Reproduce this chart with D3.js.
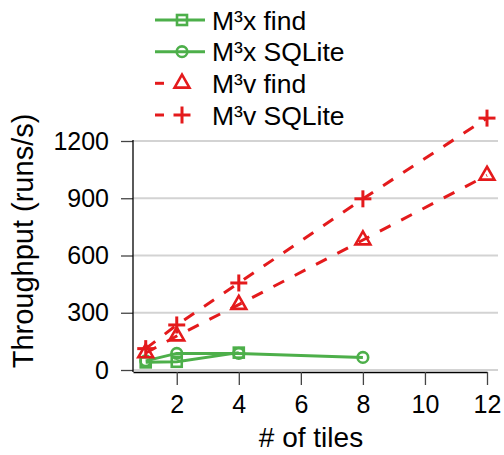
<!DOCTYPE html>
<html>
<head>
<meta charset="utf-8">
<script src="https://cdn.jsdelivr.net/npm/d3@7"></script>
<style>
  html, body { margin: 0; padding: 0; background: #fff; }
  svg { display: block; font-family: "Liberation Sans", Arial, Helvetica, sans-serif; }
</style>
</head>
<body>
<svg id="chart" width="504" height="455"></svg>
<script>
// Throughput vs. number of tiles
const xTicks = [2, 4, 6, 8, 10, 12];
const yTicks = [0, 300, 600, 900, 1200];

const mxFindTiles = [1, 2, 4];
const mxFindValues = [40, 43, 91];

const mxSqliteTiles = [1, 2, 4, 8];
const mxSqliteValues = [48, 87, 87, 66];

const mvFindTiles = [1, 2, 4, 8, 12];
const mvFindValues = [89, 178, 343, 681, 1020];

const mvSqliteTiles = [1, 2, 4, 8, 12];
const mvSqliteValues = [112, 236, 456, 897, 1320];

const seriesNames = ["M³x find", "M³x SQLite", "M³v find", "M³v SQLite"];

const GREEN = "#4daf4a";
const RED = "#e41a1c";

const series = [
  { name: seriesNames[0], tiles: mxFindTiles, values: mxFindValues, color: GREEN, dash: null, shape: "square" },
  { name: seriesNames[1], tiles: mxSqliteTiles, values: mxSqliteValues, color: GREEN, dash: null, shape: "circle" },
  { name: seriesNames[2], tiles: mvFindTiles, values: mvFindValues, color: RED, dash: "12,12", shape: "triangle" },
  { name: seriesNames[3], tiles: mvSqliteTiles, values: mvSqliteValues, color: RED, dash: "12,12", shape: "cross" }
];

const svg = d3.select("#chart");

const x = d3.scaleLinear().domain([0.59, 12]).range([133, 487]);
const y = d3.scaleLinear().domain([0, 1200]).range([370, 141]);
const axisY = 372;

// horizontal grid
svg.append("g")
  .selectAll("line")
  .data(yTicks)
  .join("line")
  .attr("x1", 133).attr("x2", 498)
  .attr("y1", d => y(d)).attr("y2", d => y(d))
  .attr("stroke", "#d3d3d3")
  .attr("stroke-width", 2.2);

// y axis
const yAxis = svg.append("g")
  .attr("transform", "translate(133,0)")
  .call(d3.axisLeft(y).tickValues(yTicks).tickSize(12).tickPadding(12).tickFormat(d3.format("d")));
yAxis.select(".domain").remove();
yAxis.selectAll(".tick line").attr("stroke", "#444").attr("stroke-width", 1.3);
yAxis.selectAll(".tick text")
  .attr("font-size", 25).attr("fill", "#000")
  .attr("font-family", "'Liberation Sans', Arial, sans-serif");
svg.append("line")
  .attr("x1", 133).attr("x2", 133)
  .attr("y1", y(1200) - 1).attr("y2", axisY)
  .attr("stroke", "#000").attr("stroke-width", 1.3);

// x axis
const xAxis = svg.append("g")
  .attr("transform", `translate(0,${axisY})`)
  .call(d3.axisBottom(x).tickValues(xTicks).tickSize(13).tickSizeOuter(0).tickPadding(10));
xAxis.select(".domain").attr("stroke", "#000").attr("stroke-width", 1.3);
xAxis.selectAll(".tick line").attr("stroke", "#444").attr("stroke-width", 1.3);
xAxis.selectAll(".tick text")
  .attr("font-size", 25).attr("fill", "#000")
  .attr("font-family", "'Liberation Sans', Arial, sans-serif");

// axis titles
svg.append("text")
  .attr("x", (x(0.59) + x(12)) / 2 + 1).attr("y", 447)
  .attr("text-anchor", "middle")
  .attr("font-size", 28)
  .text("# of tiles");

svg.append("text")
  .attr("transform", "translate(33,241) rotate(-90)")
  .attr("text-anchor", "middle")
  .attr("font-size", 29)
  .text("Throughput (runs/s)");

// marker drawing
function drawMarker(g, shape, cx, cy, color) {
  const sw = 2.6;
  if (shape === "square") {
    g.append("rect")
      .attr("x", cx - 5).attr("y", cy - 5).attr("width", 10).attr("height", 10)
      .attr("fill", "none").attr("stroke", color).attr("stroke-width", sw);
  } else if (shape === "circle") {
    g.append("circle")
      .attr("cx", cx).attr("cy", cy).attr("r", 5.3)
      .attr("fill", "none").attr("stroke", color).attr("stroke-width", sw);
  } else if (shape === "triangle") {
    const r = 8.6;
    const pts = [
      [cx, cy - r],
      [cx + r * 0.866, cy + r / 2],
      [cx - r * 0.866, cy + r / 2]
    ];
    g.append("polygon")
      .attr("points", pts.map(p => p.join(",")).join(" "))
      .attr("fill", "none").attr("stroke", color).attr("stroke-width", sw)
      .attr("stroke-linejoin", "miter");
  } else if (shape === "cross") {
    const h = 8.5;
    g.append("line").attr("x1", cx - h).attr("x2", cx + h).attr("y1", cy).attr("y2", cy)
      .attr("stroke", color).attr("stroke-width", 3);
    g.append("line").attr("x1", cx).attr("x2", cx).attr("y1", cy - h).attr("y2", cy + h)
      .attr("stroke", color).attr("stroke-width", 3);
  }
}

// series
const line = d3.line().x(d => x(d[0])).y(d => y(d[1]));
series.forEach(s => {
  const g = svg.append("g");
  const pts = s.tiles.map((t, i) => [t, s.values[i]]);
  g.append("path")
    .attr("d", line(pts))
    .attr("fill", "none")
    .attr("stroke", s.color)
    .attr("stroke-width", 3)
    .attr("stroke-dasharray", s.dash)
    .attr("stroke-linejoin", "round");
  pts.forEach(p => drawMarker(g, s.shape, x(p[0]), y(p[1]), s.color));
});

// legend
const legendRows = [20, 51.7, 83.3, 115];
series.forEach((s, i) => {
  const g = svg.append("g");
  const ry = legendRows[i];
  if (s.dash) {
    g.append("line")
      .attr("x1", 155).attr("x2", 164).attr("y1", ry).attr("y2", ry)
      .attr("stroke", s.color).attr("stroke-width", 3);
  } else {
    g.append("line")
      .attr("x1", 155).attr("x2", 205).attr("y1", ry).attr("y2", ry)
      .attr("stroke", s.color).attr("stroke-width", 3);
  }
  drawMarker(g, s.shape, 182, ry, s.color);
  g.append("text")
    .attr("x", 212).attr("y", ry + 9.5)
    .attr("font-size", 26.5)
    .attr("fill", "#000")
    .text(s.name);
});
</script>
</body>
</html>
